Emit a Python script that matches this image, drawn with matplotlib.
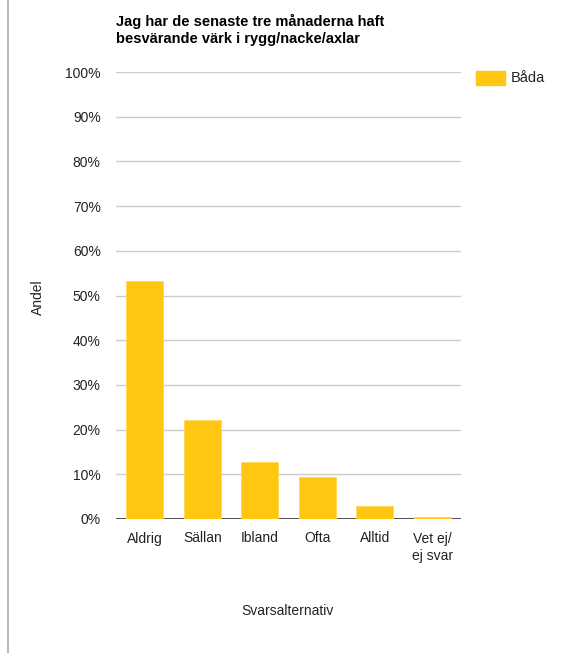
import matplotlib.pyplot as plt
import matplotlib.lines as mlines
import matplotlib.patches as mpatches

plt.rcParams['font.family'] = ['Liberation Sans', 'DejaVu Sans']

categories = ["Aldrig", "Sällan", "Ibland", "Ofta", "Alltid", "Vet ej/\nej svar"]
values = [53.2, 22.1, 12.7, 9.4, 2.9, 0.4]
yticks = [0, 10, 20, 30, 40, 50, 60, 70, 80, 90, 100]
series_name = "Båda"
bar_color = "#FFC612"

fig = plt.figure(figsize=(5.68, 6.53), dpi=100)
ax = fig.add_axes([116 / 568, 1 - 519 / 653, 345 / 568, 447 / 653])

x = range(len(categories))
ax.bar(x, values, width=0.64, color=bar_color, edgecolor="#FFD75A", linewidth=0.6, zorder=3)

ax.set_xlim(-0.5, len(categories) - 0.5)
ax.set_ylim(0, 100)
ax.set_yticks(yticks)
ax.set_yticklabels([f"{v}%" for v in yticks])
ax.set_xticks(list(x))
ax.set_xticklabels(categories, linespacing=1.3)
ax.grid(axis="y", color="#CCCCCC", linewidth=1, zorder=0)
ax.axhline(0, color="#333333", linewidth=1.2, zorder=2)
for s in ax.spines.values():
    s.set_visible(False)
ax.tick_params(axis="both", length=0, labelsize=10, colors="#222222")
ax.tick_params(axis="y", pad=11)
ax.tick_params(axis="x", pad=9)

fig.text(38 / 568, 1 - 297 / 653, "Andel", rotation=90, ha="center", va="center",
         fontsize=10, color="#222222")
fig.text(288 / 568, 1 - 611 / 653, "Svarsalternativ", ha="center", va="center",
         fontsize=10, color="#222222")
fig.text(116 / 568, 1 - 14 / 653,
         "Jag har de senaste tre månaderna haft\nbesvärande värk i rygg/nacke/axlar",
         ha="left", va="top", fontsize=10.5, fontweight="bold", color="#000000",
         linespacing=1.3)

# legend
fig.patches.append(mpatches.Rectangle((476 / 568, 1 - 85 / 653), 29 / 568, 14 / 653,
                                      transform=fig.transFigure, color=bar_color))
fig.text(511 / 568, 1 - 78 / 653, series_name, ha="left", va="center",
         fontsize=10.5, color="#222222")

# left border
fig.lines.append(mlines.Line2D([8 / 568, 8 / 568], [0, 1], transform=fig.transFigure,
                               color="#AAAAAA", linewidth=1.2))

fig.savefig("out.png", dpi=100)
